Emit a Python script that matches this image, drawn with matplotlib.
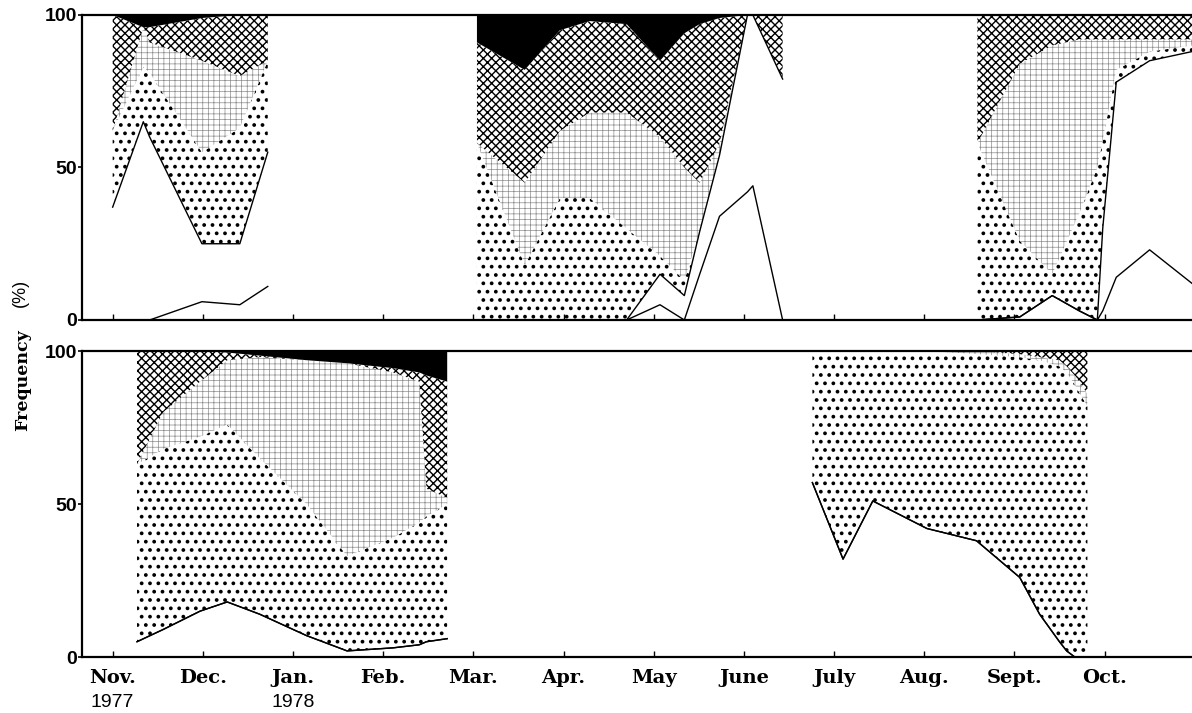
import matplotlib
matplotlib.use("Agg")
import matplotlib.pyplot as plt

months = ["Nov.", "Dec.", "Jan.", "Feb.", "Mar.", "Apr.", "May", "June",
          "July", "Aug.", "Sept.", "Oct."]
month_pos = list(range(12))
years = ["1977", "1978"]
year_pos = [0, 2]

# x = months after 1 Nov 1977; every list is a cumulative boundary in %
# (top of clear A, top of clear B, top of dots, top of light screen, top of crosshatch; black above)

# upper panel
u1_x = [0.0, 0.34, 0.41, 0.99, 1.41, 1.72]
u1_a = [0, 0, 0, 6, 5, 11]
u1_b = [37, 65, 60, 25, 25, 55]
u1_dots = [62, 83, 81, 55, 63, 85]
u1_light = [62, 96, 91, 85, 80, 85]
u1_cross = [100, 96, 96, 99, 100, 100]

u2_x = [4.04, 4.57, 4.96, 5.29, 5.70, 6.07, 6.34, 6.51, 6.73, 7.04, 7.10, 7.43]
u2_a = [0, 0, 0, 0, 0, 5, 0, 15, 34, 42, 44, 0]
u2_b = [0, 0, 0, 0, 0, 15, 8, 29, 54, 100, 100, 79]
u2_dots = [58, 18, 40, 40, 30, 21, 13, 29, 54, 100, 100, 79]
u2_light = [58, 45, 62, 68, 68, 60, 50, 45, 58, 100, 100, 79]
u2_cross = [91, 82, 95, 98, 97, 85, 94, 97, 99, 100, 100, 100]

u3_x = [9.59, 10.06, 10.42, 10.72, 10.92, 10.98, 11.13, 11.50, 11.97]
u3_a = [0, 1, 8, 3, 0, 3, 14, 23, 12]
u3_b = [0, 1, 8, 3, 0, 30, 78, 85, 88]
u3_dots = [58, 26, 15, 35, 50, 59, 82, 88, 90]
u3_light = [58, 84, 90, 92, 92, 92, 92, 92, 92]
u3_cross = [100, 100, 100, 100, 100, 100, 100, 100, 100]

# lower panel
l1_x = [0.27, 0.56, 0.97, 1.27, 1.63, 2.15, 2.60, 3.11, 3.40, 3.48, 3.71]
l1_a = [5, 9, 15, 18, 14, 7, 2, 3, 4, 5, 6]
l1_b = [5, 9, 15, 18, 14, 7, 2, 3, 4, 5, 6]
l1_dots = [63, 68, 72, 76, 65, 50, 33, 39, 44, 46, 50]
l1_light = [63, 80, 90, 97, 98, 97, 96, 93, 90, 55, 52]
l1_cross = [100, 100, 100, 99.5, 98.5, 97, 96, 94.4, 93, 92, 90]

l2_x = [7.76, 8.10, 8.43, 9.03, 9.58, 10.06, 10.28, 10.50, 10.58, 10.67, 10.81]
l2_a = [57, 32, 51, 42, 38, 26, 14, 5, 2, 0, 0]
l2_b = [57, 32, 51, 42, 38, 26, 14, 5, 2, 0, 0]
l2_dots = [100, 100, 100, 100, 99, 98, 97, 95, 93, 89, 82]
l2_light = [100, 100, 100, 100, 100, 99, 98, 97, 95, 92, 86]
l2_cross = [100, 100, 100, 100, 100, 100, 100, 100, 100, 100, 100]


def draw_segment(ax, x, a, b, dots, light, cross):
    top = [100] * len(x)
    with plt.rc_context({'hatch.linewidth': 1.5}):
        ax.fill_between(x, b, dots, facecolor='white', edgecolor='black',
                        hatch='..', linewidth=0)
    with plt.rc_context({'hatch.linewidth': 0.5}):
        ax.fill_between(x, dots, light, facecolor='white', edgecolor='0.55',
                        hatch='+++', linewidth=0)
    with plt.rc_context({'hatch.linewidth': 1.0}):
        ax.fill_between(x, light, cross, facecolor='white', edgecolor='black',
                        hatch='xxxx', linewidth=0)
    ax.fill_between(x, cross, top, facecolor='black', linewidth=0)
    ax.plot(x, a, color='black', lw=1.0)
    ax.plot(x, b, color='black', lw=1.0)


fig = plt.figure(figsize=(11.92, 7.13), dpi=100)
ax_top = fig.add_axes([0.0688, 0.5512, 0.9312, 0.4278])
ax_bot = fig.add_axes([0.0688, 0.0785, 0.9312, 0.4292])

draw_segment(ax_top, u1_x, u1_a, u1_b, u1_dots, u1_light, u1_cross)
draw_segment(ax_top, u2_x, u2_a, u2_b, u2_dots, u2_light, u2_cross)
draw_segment(ax_top, u3_x, u3_a, u3_b, u3_dots, u3_light, u3_cross)
draw_segment(ax_bot, l1_x, l1_a, l1_b, l1_dots, l1_light, l1_cross)
draw_segment(ax_bot, l2_x, l2_a, l2_b, l2_dots, l2_light, l2_cross)

for ax in (ax_top, ax_bot):
    ax.set_xlim(-0.34, 11.97)
    ax.set_ylim(0, 100)
    ax.spines['right'].set_visible(False)
    for s in ('left', 'top', 'bottom'):
        ax.spines[s].set_linewidth(1.6)
        ax.spines[s].set_zorder(5)
    ax.set_xticks(month_pos)
    ax.set_xticklabels([])
    ax.tick_params(axis='x', direction='in', length=4, width=1.0)
    ax.set_yticks([0, 50, 100])
    ax.set_yticklabels(['0', '50', '100'], fontfamily='Liberation Sans',
                       fontweight='bold', fontsize=14)
    ax.tick_params(axis='y', direction='out', length=3, width=1.2, pad=0.5)

for pos, name in zip(month_pos, months):
    ax_bot.text(pos, -0.085, name, transform=ax_bot.get_xaxis_transform(),
                ha='center', va='baseline', fontfamily='DejaVu Serif',
                fontweight='bold', fontsize=14)
for pos, yr in zip(year_pos, years):
    ax_bot.text(pos, -0.163, yr, transform=ax_bot.get_xaxis_transform(),
                ha='center', va='baseline', fontfamily='Liberation Sans',
                fontsize=14)

fig.text(0.0193, 0.467, "Frequency", rotation=90, ha='center', va='center',
         fontfamily='DejaVu Serif', fontweight='bold', fontsize=12.5)
fig.text(0.0175, 0.589, "(%)", rotation=90, ha='center', va='center',
         fontfamily='Liberation Sans', fontsize=13)

fig.savefig("out.png", dpi=100)
